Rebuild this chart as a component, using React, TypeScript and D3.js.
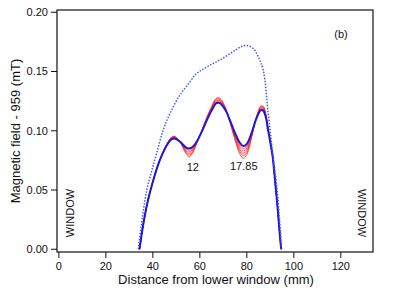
import React from "react";
import * as d3 from "d3";

const xs = [34.3, 36, 38, 40, 42, 44, 46, 48, 49, 50, 52, 54, 55.5, 57, 59, 61, 63, 65, 67, 68, 69, 71, 73, 75, 77, 78.5, 80, 82, 84, 86, 87, 88, 89, 90, 91, 92, 93, 94, 94.6];

const blueSolid = [0, 0.022, 0.042, 0.057, 0.070, 0.0800, 0.0880, 0.0930, 0.0935, 0.0930, 0.0900, 0.0860, 0.0850, 0.0865, 0.0920, 0.1000, 0.1090, 0.1170, 0.1233, 0.1236, 0.1225, 0.1170, 0.1080, 0.0980, 0.0900, 0.0871, 0.0890, 0.0980, 0.1100, 0.1174, 0.1170, 0.1120, 0.1010, 0.0900, 0.0780, 0.058, 0.037, 0.013, 0];

const red1 = [0, 0.022, 0.042, 0.057, 0.070, 0.0801, 0.0882, 0.0934, 0.0939, 0.0933, 0.0898, 0.0850, 0.0836, 0.0855, 0.0918, 0.1002, 0.1095, 0.1177, 0.1241, 0.1244, 0.1233, 0.1174, 0.1076, 0.0968, 0.0881, 0.0850, 0.0872, 0.0972, 0.1102, 0.1181, 0.1177, 0.1126, 0.1014, 0.0902, 0.0781, 0.058, 0.037, 0.013, 0];
const red2 = [0, 0.022, 0.042, 0.057, 0.070, 0.0802, 0.0884, 0.0937, 0.0943, 0.0936, 0.0896, 0.0840, 0.0822, 0.0845, 0.0916, 0.1004, 0.1100, 0.1184, 0.1250, 0.1253, 0.1241, 0.1178, 0.1072, 0.0956, 0.0862, 0.0829, 0.0854, 0.0964, 0.1104, 0.1188, 0.1184, 0.1132, 0.1018, 0.0904, 0.0782, 0.058, 0.037, 0.013, 0];
const red3 = [0, 0.022, 0.042, 0.057, 0.070, 0.0803, 0.0886, 0.0941, 0.0947, 0.0939, 0.0894, 0.0830, 0.0808, 0.0835, 0.0914, 0.1006, 0.1105, 0.1191, 0.1258, 0.1261, 0.1249, 0.1182, 0.1068, 0.0944, 0.0843, 0.0809, 0.0836, 0.0956, 0.1106, 0.1196, 0.1192, 0.1138, 0.1022, 0.0906, 0.0783, 0.058, 0.037, 0.013, 0];
const red4 = [0, 0.022, 0.042, 0.057, 0.070, 0.0804, 0.0888, 0.0944, 0.0951, 0.0942, 0.0892, 0.0820, 0.0794, 0.0825, 0.0912, 0.1008, 0.1110, 0.1198, 0.1267, 0.1270, 0.1257, 0.1186, 0.1064, 0.0932, 0.0824, 0.0788, 0.0818, 0.0948, 0.1108, 0.1203, 0.1199, 0.1144, 0.1026, 0.0908, 0.0784, 0.058, 0.037, 0.013, 0];
const red5 = [0, 0.022, 0.042, 0.057, 0.070, 0.0805, 0.0890, 0.0948, 0.0955, 0.0945, 0.0890, 0.0810, 0.0780, 0.0815, 0.0910, 0.1010, 0.1115, 0.1205, 0.1275, 0.1278, 0.1265, 0.1190, 0.1060, 0.0920, 0.0805, 0.0767, 0.0800, 0.0940, 0.1110, 0.1210, 0.1206, 0.1150, 0.1030, 0.0910, 0.0785, 0.058, 0.037, 0.013, 0];
const redSeries = [red1, red2, red3, red4, red5];

const dottedX = [33.8, 35.5, 37.4, 39.5, 41.6, 44.4, 47.3, 51.5, 55.8, 58.6, 62, 65.7, 68.6, 72.8, 75.5, 77.8, 79.9, 82.7, 84.9, 87, 89.1, 91, 92.9, 94.8];
const dottedY = [0, 0.026, 0.05, 0.066, 0.081, 0.1005, 0.1146, 0.130, 0.1413, 0.1483, 0.1528, 0.1568, 0.1598, 0.1650, 0.1685, 0.1711, 0.172, 0.1694, 0.1623, 0.151, 0.1146, 0.081, 0.05, 0];

const xTicks = [0, 20, 40, 60, 80, 100, 120];
const yTicks = [0, 0.05, 0.1, 0.15, 0.2];
const annotations = [
  { text: "12", x: 57, y: 0.066 },
  { text: "17.85", x: 78.7, y: 0.067 },
];

export default function App() {
  const W = 399, H = 288;
  const left = 57, right = 373, top = 10, bottom = 252;
  const x = d3.scaleLinear().domain([-0.8, 133.7]).range([left, right]);
  const y = d3.scaleLinear().domain([-0.0023, 0.2019]).range([bottom, top]);
  const font = "Liberation Sans, Arial, Helvetica, sans-serif";

  const line = d3
    .line<[number, number]>()
    .x((d) => x(d[0]))
    .y((d) => y(d[1]))
    .curve(d3.curveCatmullRom.alpha(0.5));

  const toPts = (xa: number[], ya: number[]) => xa.map((v, i) => [v, ya[i]] as [number, number]);

  return (
    <svg width={W} height={H} style={{ position: "absolute", left: 0, top: 0, background: "#fff" }} fontFamily={font}>
      {redSeries.map((s, i) => (
        <path key={i} d={line(toPts(xs, s)) || ""} fill="none" stroke="#ff1a1a" strokeWidth={0.9} strokeOpacity={0.85} />
      ))}
      <path d={line(toPts(xs, blueSolid)) || ""} fill="none" stroke="#1a1adf" strokeWidth={2} />
      <path d={line(toPts(dottedX, dottedY)) || ""} fill="none" stroke="#3a5ee8" strokeWidth={1.5} strokeDasharray="1.5,1.5" />

      <rect x={left} y={top} width={right - left} height={bottom - top} fill="none" stroke="#111" strokeWidth={1.2} />

      {yTicks.map((t) => (
        <g key={t}>
          <line x1={left - 6} x2={left} y1={y(t)} y2={y(t)} stroke="#111" strokeWidth={1} />
          <text x={left - 9} y={y(t)} dy="0.35em" textAnchor="end" fontSize={11} fill="#111">
            {t.toFixed(2)}
          </text>
        </g>
      ))}
      {xTicks.map((t) => (
        <g key={t}>
          <line x1={x(t)} x2={x(t)} y1={bottom} y2={bottom + 6} stroke="#111" strokeWidth={1} />
          <text x={x(t)} y={bottom + 18} textAnchor="middle" fontSize={11} fill="#111">
            {t}
          </text>
        </g>
      ))}

      <text x={(left + right) / 2 + 1} y={284} textAnchor="middle" fontSize={13} fill="#111">
        Distance from lower window (mm)
      </text>
      <text transform={`translate(20,${(top + bottom) / 2}) rotate(-90)`} textAnchor="middle" fontSize={13} fill="#111">
        Magnetic field - 959 (mT)
      </text>

      <text transform="translate(74,213) rotate(-90)" textAnchor="middle" fontSize={11} fill="#111">
        WINDOW
      </text>
      <text transform="translate(358,213) rotate(90)" textAnchor="middle" fontSize={11} fill="#111">
        WINDOW
      </text>
      <text x={341} y={38} textAnchor="middle" fontSize={11} fill="#111">
        (b)
      </text>
      {annotations.map((a) => (
        <text key={a.text} x={x(a.x)} y={y(a.y)} textAnchor="middle" fontSize={11} fill="#111">
          {a.text}
        </text>
      ))}
    </svg>
  );
}
